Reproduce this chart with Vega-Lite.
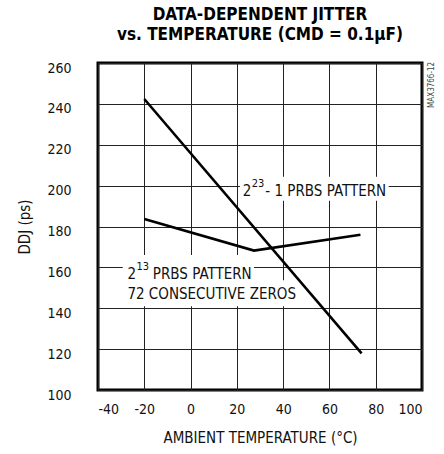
{
  "$schema": "https://vega.github.io/schema/vega-lite/v6.json",
  "width": 324,
  "height": 327,
  "autosize": "none",
  "padding": {"left": 98, "top": 63, "right": 22, "bottom": 64},
  "background": "white",
  "title": {
    "text": ["DATA-DEPENDENT JITTER", "vs. TEMPERATURE (CMD = 0.1μF)"],
    "font": "DejaVu Sans Condensed",
    "fontSize": 17,
    "fontWeight": "bold",
    "color": "black",
    "lineHeight": 20,
    "offset": 17,
    "anchor": "middle"
  },
  "config": {
    "view": {"stroke": "black", "strokeWidth": 3},
    "axis": {
      "grid": true,
      "gridColor": "#222",
      "gridWidth": 1,
      "gridOpacity": 1,
      "domain": false,
      "ticks": false,
      "labelFont": "DejaVu Sans Condensed",
      "labelFontSize": 14,
      "labelColor": "#111",
      "titleFont": "DejaVu Sans Condensed",
      "titleFontSize": 15,
      "titleFontWeight": "normal",
      "titleColor": "#111"
    }
  },
  "datasets": {
    "jitter": [
      {"series": "2^23-1 PRBS", "temp": -20, "ddj": 242.4},
      {"series": "2^23-1 PRBS", "temp": 73.9, "ddj": 117.9},
      {"series": "2^13 PRBS", "temp": -20, "ddj": 183.7},
      {"series": "2^13 PRBS", "temp": 27.4, "ddj": 168.2},
      {"series": "2^13 PRBS", "temp": 73.4, "ddj": 176.0}
    ],
    "boxes": [
      {"t1": 21.3, "t2": 85.6, "d1": 192.6, "d2": 204.4},
      {"t1": -29.3, "t2": 27.4, "d1": 153.2, "d2": 166.0},
      {"t1": -29.3, "t2": 44.9, "d1": 141.0, "d2": 153.7}
    ],
    "labels": [
      {"text": "2", "temp": 22.6, "ddj": 197.4},
      {"text": "- 1 PRBS PATTERN", "temp": 32.3, "ddj": 197.4},
      {"text": "2", "temp": -27.3, "ddj": 157.0},
      {"text": "PRBS PATTERN", "temp": -16.3, "ddj": 157.0},
      {"text": "72 CONSECUTIVE ZEROS", "temp": -27.3, "ddj": 147.2}
    ],
    "sups": [
      {"text": "23", "temp": 26.4, "ddj": 197.4},
      {"text": "13", "temp": -23.4, "ddj": 157.0}
    ],
    "code": [
      {"text": "MAX3766-12", "temp": 104.2, "ddj": 249.3}
    ]
  },
  "encoding": {
    "x": {
      "field": "temp",
      "type": "quantitative",
      "scale": {"domain": [-40, 100], "nice": false},
      "axis": {"values": [-40, -20, 0, 20, 40, 60, 80, 100], "labelExpr": "datum.value + ''", "title": "AMBIENT TEMPERATURE (°C)", "labelPadding": 12, "titlePadding": 14}
    },
    "y": {
      "field": "ddj",
      "type": "quantitative",
      "scale": {"domain": [100, 260], "nice": false},
      "axis": {"values": [100, 120, 140, 160, 180, 200, 220, 240, 260], "title": "DDJ (ps)", "labelPadding": 27, "labelOffset": 5, "titlePadding": 14}
    }
  },
  "layer": [
    {
      "data": {"name": "jitter"},
      "mark": {"type": "line", "color": "black", "strokeWidth": 2.6},
      "encoding": {"detail": {"field": "series"}}
    },
    {
      "data": {"name": "boxes"},
      "mark": {"type": "rect", "fill": "white"},
      "encoding": {
        "x": {"field": "t1", "type": "quantitative"},
        "x2": {"field": "t2"},
        "y": {"field": "d1", "type": "quantitative"},
        "y2": {"field": "d2"}
      }
    },
    {
      "data": {"name": "labels"},
      "mark": {"type": "text", "align": "left", "baseline": "middle", "font": "DejaVu Sans Condensed", "fontSize": 15, "color": "#111"},
      "encoding": {"text": {"field": "text"}}
    },
    {
      "data": {"name": "sups"},
      "mark": {"type": "text", "align": "left", "baseline": "middle", "dy": -7, "font": "DejaVu Sans Condensed", "fontSize": 11, "color": "#111"},
      "encoding": {"text": {"field": "text"}}
    },
    {
      "data": {"name": "code"},
      "mark": {"type": "text", "angle": 270, "align": "center", "baseline": "middle", "font": "DejaVu Sans Condensed", "fontSize": 8, "color": "#444"},
      "encoding": {"text": {"field": "text"}}
    }
  ]
}
